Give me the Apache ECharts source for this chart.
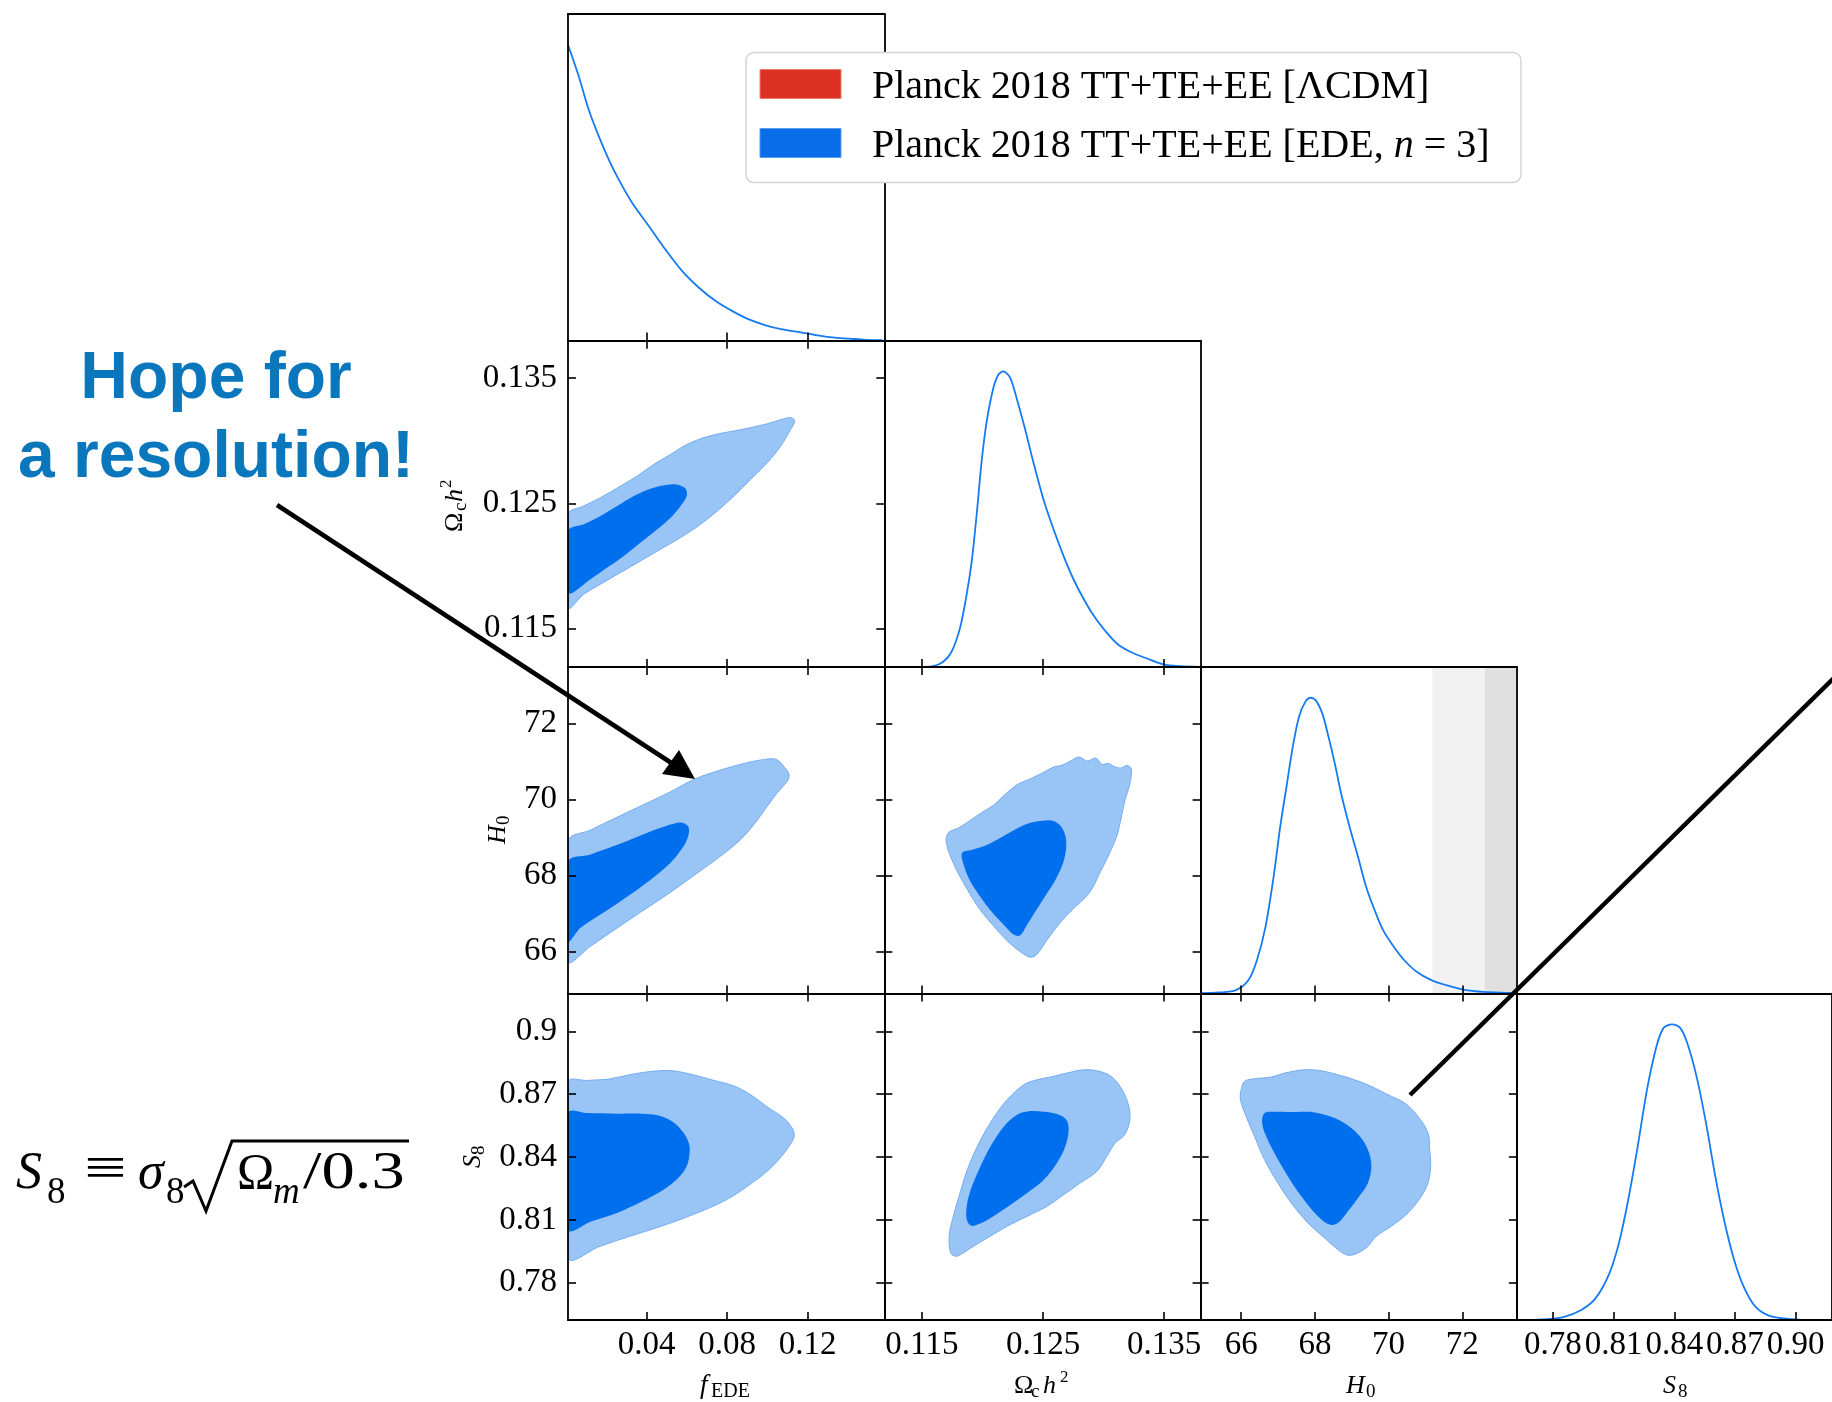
<!DOCTYPE html>
<html><head><meta charset="utf-8">
<script src="https://cdn.jsdelivr.net/npm/echarts@6/dist/echarts.min.js"></script>
<style>html,body{margin:0;padding:0;background:#fff}#c{width:1832px;height:1402px}</style>
</head><body><div id="c"></div><script>
// ---------------- DATA ----------------
const fEDERange = [0.001, 0.158];
const omch2Range = [0.1119, 0.138];
const H0Range = [64.9, 73.48];
const S8Range = [0.7622, 0.918];
const fEDETicks = [0.04, 0.08, 0.12];
const omch2Ticks = [0.115, 0.125, 0.135];
const H0Ticks = [66, 68, 70, 72];
const S8Ticks = [0.78, 0.81, 0.84, 0.87, 0.90];
const legendLabels = ['Planck 2018 TT+TE+EE [ΛCDM]', 'Planck 2018 TT+TE+EE [EDE, ', 'n', ' = 3]'];
const sh0esBands = [[71.19, 76.87], [72.61, 75.45]];
const hopeLines = ['Hope for', 'a resolution!'];

// 1D marginal posteriors (x, normalised density)
const fEDE1D = [[0.001,1.0],[0.0064,0.892],[0.0113,0.780],[0.0163,0.690],[0.0213,0.611],[0.0262,0.544],[0.0329,0.465],[0.0412,0.386],[0.0494,0.307],[0.0577,0.234],[0.066,0.178],[0.0743,0.133],[0.0826,0.099],[0.0908,0.071],[0.0991,0.051],[0.1074,0.037],[0.1157,0.028],[0.124,0.018],[0.1323,0.010],[0.1405,0.006],[0.1488,0.002],[0.157,0.001]];
const omch21D = [[0.1119,0],[0.1151,0.001],[0.11593,0.003],[0.11676,0.018],[0.11745,0.052],[0.11814,0.131],[0.11869,0.244],[0.11911,0.357],[0.11952,0.515],[0.11993,0.695],[0.12035,0.831],[0.1209,0.944],[0.12131,0.989],[0.12172,1.0],[0.12227,0.98],[0.12283,0.908],[0.12351,0.806],[0.1242,0.693],[0.12503,0.568],[0.12585,0.468],[0.12668,0.377],[0.1275,0.298],[0.12833,0.232],[0.12916,0.175],[0.12998,0.13],[0.13109,0.08],[0.13219,0.052],[0.13357,0.029],[0.13494,0.009],[0.13632,0.003],[0.13797,0.001]];
const H01D = [[64.9,0.001],[65.4,0.003],[65.86,0.011],[66.2,0.045],[66.43,0.113],[66.66,0.225],[66.88,0.394],[67.06,0.564],[67.23,0.699],[67.4,0.834],[67.57,0.936],[67.74,0.986],[67.88,1.0],[68.02,0.992],[68.2,0.947],[68.37,0.868],[68.54,0.778],[68.71,0.677],[68.94,0.564],[69.17,0.462],[69.39,0.361],[69.62,0.282],[69.85,0.214],[70.14,0.158],[70.42,0.113],[70.76,0.073],[71.16,0.045],[71.56,0.028],[72.02,0.013],[72.59,0.005],[73.27,0.002],[73.48,0.001]];
const S81D = [[0.7622,0],[0.7753,0.002],[0.7847,0.009],[0.794,0.034],[0.801,0.073],[0.8079,0.158],[0.8126,0.26],[0.8172,0.406],[0.8219,0.587],[0.8265,0.779],[0.8312,0.926],[0.8347,0.988],[0.8389,1.0],[0.8429,0.988],[0.8464,0.937],[0.851,0.824],[0.8557,0.666],[0.8603,0.485],[0.865,0.327],[0.8696,0.203],[0.8743,0.113],[0.8801,0.045],[0.8871,0.014],[0.8964,0.004],[0.9103,0],[0.918,0]];

// 2D contours (68% inner, 95% outer), in data units
const fEDE_omch2_outer = [[0.0011,0.12412],[0.00887,0.12479],[0.01715,0.12545],[0.02708,0.12638],[0.03536,0.12718],[0.04364,0.12812],[0.05192,0.12891],[0.0602,0.12971],[0.06848,0.13025],[0.07676,0.13059],[0.08339,0.13078],[0.09167,0.13105],[0.09995,0.13136],[0.10823,0.13176],[0.11187,0.13184],[0.11353,0.13158],[0.11154,0.13091],[0.10657,0.12958],[0.09995,0.12825],[0.09167,0.12692],[0.08339,0.12559],[0.07511,0.12439],[0.06683,0.12332],[0.05689,0.12226],[0.04696,0.12133],[0.03702,0.12039],[0.02708,0.11946],[0.01715,0.11853],[0.00887,0.11773],[0.0011,0.11666]];
const fEDE_omch2_inner = [[0.0011,0.12279],[0.00887,0.12332],[0.01715,0.12399],[0.02543,0.12479],[0.03371,0.12559],[0.042,0.12617],[0.05027,0.12649],[0.05524,0.12649],[0.05938,0.12617],[0.05987,0.12559],[0.05689,0.12479],[0.05192,0.12385],[0.0453,0.12292],[0.03702,0.12186],[0.02874,0.12079],[0.02046,0.11986],[0.01218,0.11893],[0.0011,0.11786]];
const fEDE_H0_outer = [[0.0011,68.904],[0.01218,69.193],[0.02377,69.491],[0.03702,69.825],[0.05027,70.158],[0.06434,70.544],[0.07676,70.772],[0.08999,70.965],[0.1016,71.07],[0.10492,71.035],[0.10823,70.86],[0.11071,70.658],[0.10988,70.482],[0.10492,70.175],[0.09995,69.825],[0.09332,69.342],[0.0867,68.947],[0.07676,68.509],[0.06352,68.0],[0.05027,67.5],[0.03702,67.035],[0.02377,66.561],[0.01218,66.14],[0.0011,65.746]];
const fEDE_H0_inner = [[0.0011,68.36],[0.01218,68.553],[0.02377,68.772],[0.03702,69.053],[0.04696,69.254],[0.05358,69.36],[0.05772,69.386],[0.06053,69.298],[0.06103,69.123],[0.05938,68.86],[0.05606,68.596],[0.05192,68.333],[0.0453,68.026],[0.03702,67.693],[0.02708,67.325],[0.01715,66.974],[0.00721,66.623],[0.0011,66.272]];
const fEDE_S8_outer = [[0.001,0.87576],[0.01068,0.87656],[0.02115,0.87719],[0.03162,0.87926],[0.04209,0.88085],[0.05256,0.88117],[0.06303,0.87926],[0.0735,0.87656],[0.08397,0.8737],[0.09235,0.86925],[0.10073,0.86336],[0.10806,0.8586],[0.11224,0.85383],[0.11329,0.84985],[0.1112,0.84588],[0.10701,0.84032],[0.10073,0.83396],[0.09235,0.8276],[0.07979,0.81966],[0.06303,0.8125],[0.04628,0.80662],[0.03162,0.80217],[0.01697,0.7974],[0.001,0.79184]];
const fEDE_S8_inner = [[0.001,0.8610],[0.01068,0.8610],[0.02534,0.86066],[0.0379,0.86066],[0.04628,0.85971],[0.05256,0.85701],[0.0578,0.85224],[0.06094,0.84668],[0.06136,0.84191],[0.05989,0.83555],[0.05571,0.82999],[0.04838,0.82442],[0.0379,0.81886],[0.02534,0.8133],[0.01278,0.80932],[0.001,0.80535]];
const omch2_H0_outer = [[0.12795,71.114],[0.12865,71.009],[0.12934,71.088],[0.12986,70.921],[0.13038,70.947],[0.1309,70.86],[0.13142,70.825],[0.13194,70.895],[0.13229,70.789],[0.13212,70.351],[0.13177,70.0],[0.13142,69.474],[0.13108,69.035],[0.13038,68.509],[0.12969,68.07],[0.12882,67.544],[0.12743,67.105],[0.12639,66.754],[0.12535,66.316],[0.12448,65.921],[0.12396,65.851],[0.12326,65.965],[0.12222,66.228],[0.12118,66.579],[0.11979,67.105],[0.11875,67.632],[0.11771,68.246],[0.11701,68.86],[0.11719,69.123],[0.11806,69.254],[0.1191,69.474],[0.12014,69.693],[0.121,69.868],[0.12187,70.132],[0.12292,70.395],[0.12396,70.544],[0.125,70.702],[0.12587,70.851],[0.12656,70.895],[0.12726,71.009]];
const omch2_H0_inner = [[0.12396,69.386],[0.125,69.439],[0.12587,69.43],[0.12656,69.254],[0.12691,68.904],[0.12674,68.421],[0.12604,67.895],[0.12517,67.456],[0.1243,67.018],[0.12361,66.667],[0.12309,66.421],[0.12257,66.447],[0.12187,66.667],[0.12083,67.018],[0.11979,67.456],[0.11892,67.895],[0.1184,68.333],[0.11833,68.596],[0.1191,68.667],[0.12014,68.772],[0.121,68.904],[0.12222,69.123],[0.12326,69.298]];
const omch2_S8_outer = [[0.11738,0.79423],[0.11725,0.80217],[0.11752,0.81012],[0.11807,0.82124],[0.11875,0.83396],[0.11971,0.84668],[0.12081,0.8578],[0.12204,0.86734],[0.12341,0.87449],[0.12451,0.87687],[0.1256,0.87815],[0.12697,0.88005],[0.12834,0.88164],[0.12944,0.88117],[0.13054,0.87878],[0.13136,0.8737],[0.13191,0.86734],[0.13218,0.86019],[0.13204,0.85462],[0.13163,0.84985],[0.13095,0.84668],[0.13026,0.84032],[0.12944,0.83317],[0.12807,0.8276],[0.1267,0.82204],[0.12533,0.81648],[0.12369,0.81171],[0.12204,0.80694],[0.1204,0.80138],[0.11903,0.79661],[0.11821,0.79343],[0.11779,0.79264]];
const omch2_S8_inner = [[0.11903,0.80726],[0.1187,0.81012],[0.1187,0.81648],[0.11903,0.82442],[0.11971,0.83396],[0.12067,0.84509],[0.12177,0.85462],[0.12286,0.86019],[0.12369,0.86178],[0.12506,0.86162],[0.12615,0.8605],[0.12692,0.8578],[0.12711,0.85303],[0.12684,0.84509],[0.12615,0.83714],[0.12506,0.82919],[0.12369,0.82283],[0.12232,0.81727],[0.12067,0.81091],[0.11958,0.80774]];
const H0_S8_outer = [[66.0,0.87211],[66.09,0.87608],[66.362,0.87735],[66.815,0.87815],[67.177,0.88005],[67.72,0.88164],[68.172,0.88117],[68.625,0.87926],[69.077,0.87687],[69.53,0.8737],[69.982,0.86972],[70.435,0.86575],[70.797,0.85939],[71.068,0.85144],[71.113,0.8435],[71.14,0.83555],[71.068,0.8276],[70.887,0.82124],[70.525,0.8133],[70.073,0.80694],[69.665,0.80217],[69.439,0.7974],[69.168,0.79423],[68.896,0.79311],[68.625,0.79581],[68.263,0.80138],[67.81,0.80853],[67.358,0.81807],[66.996,0.8276],[66.634,0.83873],[66.362,0.84985],[66.136,0.85939],[65.982,0.86734]];
const H0_S8_inner = [[66.634,0.8610],[66.905,0.86162],[67.448,0.86146],[67.991,0.8613],[68.534,0.8586],[68.987,0.85383],[69.349,0.84668],[69.53,0.83714],[69.439,0.8276],[69.168,0.82045],[68.896,0.81409],[68.625,0.80853],[68.398,0.80774],[68.082,0.81171],[67.629,0.82124],[67.267,0.83078],[66.95,0.84032],[66.679,0.84985],[66.57,0.85621]];

// ---------------- LAYOUT / STYLE ----------------
const SERIF = "'Liberation Serif','DejaVu Serif',serif";
const SANS = "'Liberation Sans','DejaVu Sans',sans-serif";
const DARK = '#006FED', LIGHT = '#99c4f6', EDGE = '#74acf2', LINE = '#157bf0';
const colLeft = [568, 884.3, 1200.6, 1517], colW = 316.3;
const rowTop = [14, 340.7, 667, 993.6], rowH = 326.4;
const Y1MAX = 1.104;

const ranges = [fEDERange, omch2Range, H0Range, S8Range];
const ticks = [fEDETicks, omch2Ticks, H0Ticks, S8Ticks];
const oneD = [fEDE1D, omch21D, H01D, S81D];
const twoD = {
  '1_0': [fEDE_omch2_outer, fEDE_omch2_inner],
  '2_0': [fEDE_H0_outer, fEDE_H0_inner],
  '3_0': [fEDE_S8_outer, fEDE_S8_inner],
  '2_1': [omch2_H0_outer, omch2_H0_inner],
  '3_1': [omch2_S8_outer, omch2_S8_inner],
  '3_2': [H0_S8_outer, H0_S8_inner]
};

const grids = [], xAxes = [], yAxes = [], series = [];
const lineSt = {color: '#000', width: 1.8};
function tick(vals, show) { return {show: show, inside: true, length: 8, customValues: vals, lineStyle: {color: '#000', width: 1.6}}; }
function lab(show, vals, fmt) {
  return {show: show, customValues: vals, margin: 9, fontSize: 33, fontFamily: SERIF, color: '#000', formatter: fmt};
}
const xFmt = [v => String(v), v => String(v), v => String(v), v => v.toFixed(2)];
const yFmt = v => String(v);

function makeContourRender(outer, inner) {
  return function (params, api) {
    const cs = params.coordSys;
    const box = [[cs.x, cs.y], [cs.x + cs.width, cs.y + cs.height]];
    const toPx = arr => arr.map(p => api.coord(p));
    return {type: 'group', children: [
      {type: 'polygon', shape: {points: toPx(outer), smooth: 0.35, smoothConstraint: box}, style: {fill: LIGHT, stroke: EDGE, lineWidth: 1}},
      {type: 'polygon', shape: {points: toPx(inner), smooth: 0.35, smoothConstraint: box}, style: {fill: DARK}}
    ]};
  };
}

for (let r = 0; r < 4; r++) {
  for (let c = 0; c <= r; c++) {
    const gi = grids.length;
    const is2D = r > c;
    grids.push({left: colLeft[c], top: rowTop[r], width: colW, height: rowH});
    const xb = xAxes.length;
    const base = {type: 'value', gridIndex: gi, z: 5, splitLine: {show: false}, axisLine: {show: true, onZero: false, lineStyle: lineSt}};
    xAxes.push(Object.assign({}, base, {position: 'bottom', min: ranges[c][0], max: ranges[c][1],
      axisTick: tick(ticks[c], true), axisLabel: lab(r === 3, ticks[c], xFmt[c])}));
    xAxes.push(Object.assign({}, base, {position: 'top', min: ranges[c][0], max: ranges[c][1],
      axisTick: tick(ticks[c], is2D), axisLabel: {show: false}}));
    const yl = yAxes.length;
    if (is2D) {
      yAxes.push(Object.assign({}, base, {position: 'left', min: ranges[r][0], max: ranges[r][1],
        axisTick: tick(ticks[r], true), axisLabel: Object.assign(lab(c === 0, ticks[r], yFmt), {margin: 11})}));
      yAxes.push(Object.assign({}, base, {position: 'right', min: ranges[r][0], max: ranges[r][1],
        axisTick: tick(ticks[r], true), axisLabel: {show: false}}));
      const pair = twoD[r + '_' + c];
      series.push({
        type: 'custom', xAxisIndex: xb, yAxisIndex: yl, clip: true, silent: true, z: 2,
        data: [[ranges[c][0], ranges[r][0]]],
        renderItem: makeContourRender(pair[0], pair[1])
      });
    } else {
      yAxes.push(Object.assign({}, base, {position: 'left', min: 0, max: Y1MAX, axisTick: {show: false}, axisLabel: {show: false}}));
      yAxes.push(Object.assign({}, base, {position: 'right', min: 0, max: Y1MAX, axisTick: {show: false}, axisLabel: {show: false}}));
      if (c === 2) {
        const bandColors = ['#f1f1f1', '#e0e0e0'];
        series.push({
          type: 'custom', xAxisIndex: xb, yAxisIndex: yl, silent: true, z: 1, clip: true,
          data: sh0esBands,
          renderItem: function (params, api) {
            const cs = params.coordSys;
            const a = api.coord([api.value(0), 0]), b = api.coord([api.value(1), 0]);
            const x0 = Math.max(cs.x, Math.min(a[0], b[0]));
            const x1 = Math.min(cs.x + cs.width, Math.max(a[0], b[0]));
            return {type: 'rect', shape: {x: x0, y: cs.y, width: Math.max(0, x1 - x0), height: cs.height}, style: {fill: bandColors[params.dataIndex]}};
          }
        });
      }
      series.push({type: 'line', xAxisIndex: xb, yAxisIndex: yl, data: oneD[c], smooth: 0.3, symbol: 'none',
        clip: true, silent: true, z: 3, lineStyle: {color: LINE, width: 1.8}});
    }
  }
}

// ---------------- GRAPHICS (legend, annotations, axis names) ----------------
const BASE_K = 0.27;
function T(text, x, baseline, size, o) {
  o = o || {};
  return {type: 'text', x: x, y: baseline - BASE_K * size, z: 60, scaleX: o.sx || 1,
    style: {text: text, fontSize: size, fontFamily: o.family || SERIF, fontStyle: o.italic ? 'italic' : 'normal',
      fontWeight: o.bold ? 'bold' : 'normal', fill: o.color || '#000', align: o.align || 'left', verticalAlign: 'middle'}};
}
const g = [];
// legend
g.push({type: 'rect', z: 50, shape: {x: 746, y: 52.5, width: 775, height: 130, r: 8}, style: {fill: '#fff', stroke: '#d4d4d4', lineWidth: 1.5}});
g.push({type: 'rect', z: 51, shape: {x: 760, y: 69.5, width: 81, height: 29}, style: {fill: '#dd3125', stroke: '#ee7a70', lineWidth: 1}});
g.push({type: 'rect', z: 51, shape: {x: 760, y: 128.5, width: 81, height: 29}, style: {fill: '#096ce8', stroke: '#5a9cef', lineWidth: 1}});
g.push(T(legendLabels[0], 872, 98.3, 40));
g.push({type: 'text', x: 872, y: 157.7 - BASE_K * 40, z: 60, style: {
  text: '{a|' + legendLabels[1] + '}{i|' + legendLabels[2] + '}{a|' + legendLabels[3] + '}',
  verticalAlign: 'middle', align: 'left',
  rich: {a: {fontSize: 40, fontFamily: SERIF, fill: '#000'}, i: {fontSize: 40, fontFamily: SERIF, fontStyle: 'italic', fill: '#000'}}}});
// Hope for a resolution
g.push(T(hopeLines[0], 216, 398, 66, {family: SANS, bold: true, color: '#0a77bd', align: 'center'}));
g.push(T(hopeLines[1], 216, 477, 66, {family: SANS, bold: true, color: '#0a77bd', align: 'center'}));
// arrow
g.push({type: 'line', z: 70, shape: {x1: 277, y1: 505, x2: 676, y2: 766}, style: {stroke: '#000', lineWidth: 4.5}});
g.push({type: 'polygon', z: 70, shape: {points: [[695, 779], [662, 774], [679, 750]]}, style: {fill: '#000'}});
// diagonal line
g.push({type: 'line', z: 70, shape: {x1: 1410, y1: 1095, x2: 1840, y2: 672}, style: {stroke: '#000', lineWidth: 4.5}});
// S8 formula
g.push(T('S', 16, 1188, 52, {italic: true}));
g.push(T('8', 47, 1203, 37));
g.push(T('≡', 84, 1186, 56, {sx: 1.35}));
g.push(T('σ', 138, 1188, 52, {italic: true}));
g.push(T('8', 166, 1203, 37));
g.push({type: 'polyline', z: 60, shape: {points: [[184, 1187], [193, 1181], [206, 1211], [232, 1141], [409, 1141]]}, style: {stroke: '#000', lineWidth: 3, fill: null}});
g.push(T('Ω', 237, 1188, 50));
g.push(T('m', 273, 1203, 37, {italic: true}));
g.push(T('/0.3', 303, 1188, 52, {sx: 1.28}));
// x axis names
g.push(T('f', 700, 1393, 27, {italic: true}));
g.push(T('EDE', 711, 1397, 20));
g.push(T('Ω', 1014, 1393, 26));
g.push(T('c', 1031, 1397, 19));
g.push(T('h', 1043, 1393, 26, {italic: true}));
g.push(T('2', 1060, 1382, 17));
g.push(T('H', 1346, 1393, 26, {italic: true}));
g.push(T('0', 1366, 1397, 19));
g.push(T('S', 1663, 1393, 26, {italic: true}));
g.push(T('8', 1678, 1397, 19));
// y axis names (rotated)
function rot(x, y, kids) { return {type: 'group', x: x, y: y, rotation: Math.PI / 2, z: 60, children: kids}; }
g.push(rot(462, 504, [T('Ω', -28, 0, 26), T('c', -7, 4, 19), T('h', 2, 0, 26, {italic: true}), T('2', 16, -11, 17)]));
g.push(rot(505, 830, [T('H', -14, 0, 26, {italic: true}), T('0', 5, 4, 19)]));
g.push(rot(480, 1158, [T('S', -10, 0, 26, {italic: true}), T('8', 3, 4, 19)]));

const chart = echarts.init(document.getElementById('c'), null, {renderer: 'canvas'});
chart.setOption({
  animation: false,
  backgroundColor: '#fff',
  grid: grids, xAxis: xAxes, yAxis: yAxes, series: series,
  graphic: {elements: g}
});
</script></body></html>
